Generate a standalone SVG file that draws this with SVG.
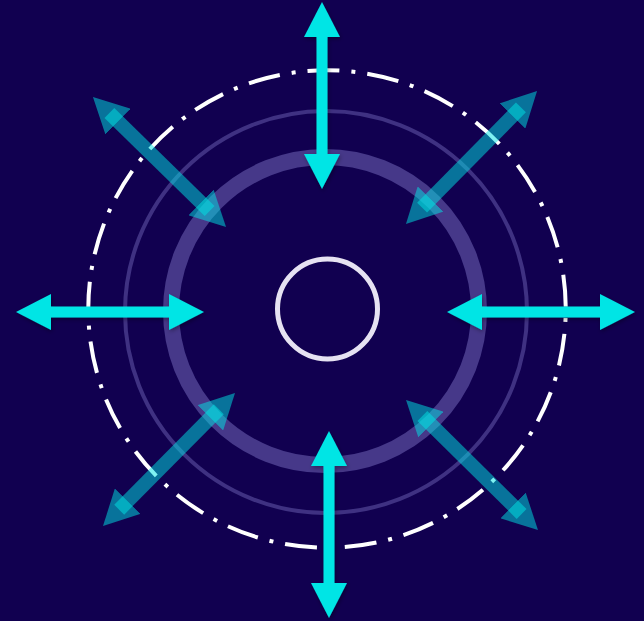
<svg xmlns="http://www.w3.org/2000/svg" width="644" height="621" viewBox="0 0 644 621">
  <style>
    .ring-thick { fill: none; stroke: #463889; stroke-width: 16; }
    .ring-thin { fill: none; stroke: #3f3182; stroke-width: 4; }
    .ring-dash { fill: none; stroke: #ffffff; stroke-width: 4; stroke-dasharray: 32 12 4 12; stroke-dashoffset: 35; }
    .core { fill: none; stroke: #e6e2f2; stroke-width: 5; }
    .arrow-solid { stroke: #00e5e5; stroke-width: 11; marker-start: url(#headSolid); marker-end: url(#headSolid); filter: url(#shadow); }
    .arrow-soft { stroke: #00e5e5; stroke-opacity: 0.5; stroke-width: 14; marker-start: url(#headSoft); marker-end: url(#headSoft); }
  </style>
  <defs>
    <marker id="headSolid" markerUnits="userSpaceOnUse" viewBox="0 0 35 36" markerWidth="35" markerHeight="36" refX="12" refY="18" orient="auto-start-reverse">
      <path d="M0,0 L35,18 L0,36 Z" fill="#00e5e5"/>
    </marker>
    <marker id="headSoft" markerUnits="userSpaceOnUse" viewBox="0 0 35 36" markerWidth="35" markerHeight="36" refX="12" refY="18" orient="auto-start-reverse">
      <path d="M0,0 L35,18 L0,36 Z" fill="#00e5e5" fill-opacity="0.5"/>
    </marker>
    <filter id="shadow" filterUnits="userSpaceOnUse" x="0" y="0" width="644" height="621">
      <feDropShadow dx="1" dy="2" stdDeviation="2" flood-color="#000000" flood-opacity="0.35"/>
    </filter>
  </defs>
  <rect x="0" y="0" width="644" height="621" fill="#110050"/>
  <g id="ring-outer-thin">
    <circle class="ring-thin" cx="326" cy="312" r="201"/>
  </g>
  <g id="ring-thick">
    <circle class="ring-thick" cx="325" cy="311" r="154"/>
  </g>
  <g id="ring-dashdot">
    <circle class="ring-dash" cx="327" cy="309" r="238.73"/>
  </g>
  <g id="core">
    <circle class="core" cx="327.5" cy="309" r="50"/>
  </g>
  <g id="connectors">
    <line class="arrow-soft" x1="109.4" y1="113.1" x2="209.6" y2="210.9"/>
    <line class="arrow-soft" x1="520.9" y1="107.4" x2="422.1" y2="207.6"/>
    <line class="arrow-soft" x1="119.2" y1="509.7" x2="218.8" y2="409.3"/>
    <line class="arrow-soft" x1="422.4" y1="416.1" x2="521.6" y2="513.9"/>
    <line class="arrow-solid" x1="322" y1="25" x2="322" y2="166"/>
    <line class="arrow-solid" x1="329" y1="454" x2="329" y2="595"/>
    <line class="arrow-solid" x1="39" y1="312" x2="181" y2="312"/>
    <line class="arrow-solid" x1="470" y1="312" x2="612" y2="312"/>
  </g>
</svg>
